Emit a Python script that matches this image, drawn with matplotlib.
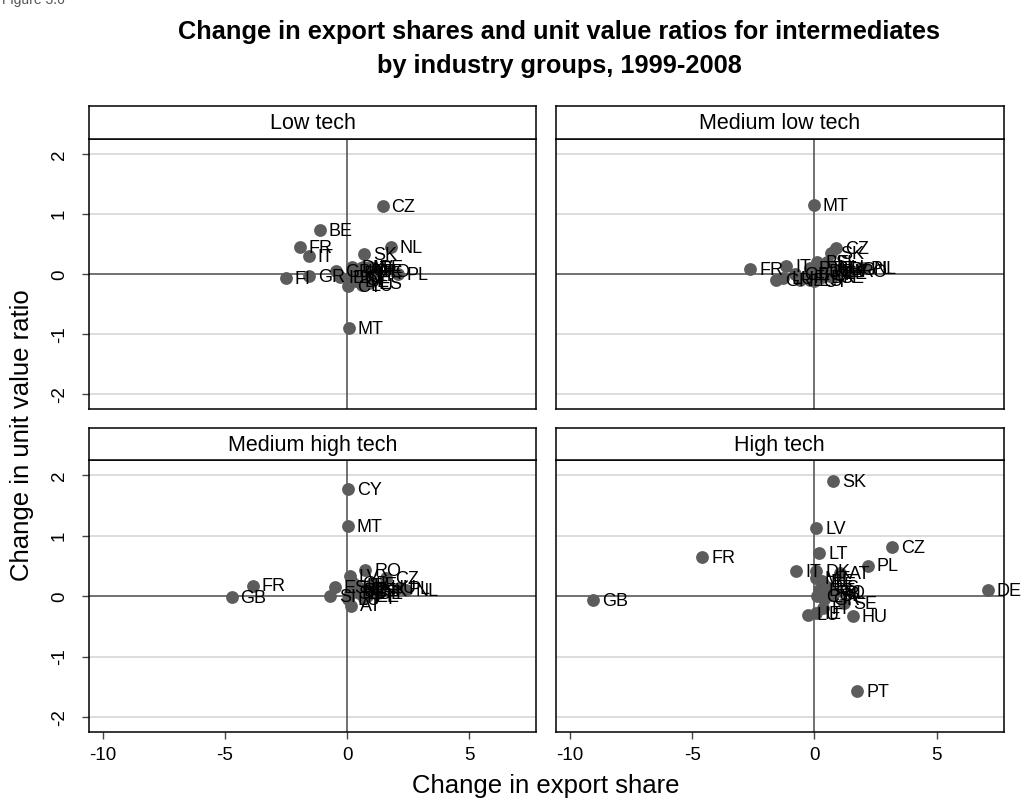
import matplotlib
matplotlib.use("Agg")
import matplotlib.pyplot as plt

plt.rcParams['font.family'] = ['Liberation Sans', 'DejaVu Sans']
plt.rcParams['axes.unicode_minus'] = False

panels = ["Low tech", "Medium low tech", "Medium high tech", "High tech"]

# low tech
low_cc = ["CZ", "BE", "FR", "IT", "NL", "SK", "PL", "FI", "GR", "MT",
          "AT", "DE", "DK", "EE", "ES", "HU", "IE", "LT", "LU", "LV",
          "PT", "RO", "SE", "SI", "BG", "CY", "GB"]
low_x = [1.45, -1.12, -1.94, -1.57, 1.78, 0.69, 2.08, -2.51, -1.56, 0.06,
         0.55, 0.35, 0.20, 0.90, 0.90, 0.45, -0.30, 0.80, 0.60, 0.65,
         0.30, 1.10, 0.95, 0.40, 0.15, 0.05, -0.44]
low_y = [1.14, 0.74, 0.45, 0.31, 0.46, 0.33, 0.00, -0.06, -0.03, -0.90,
         0.10, -0.12, 0.12, 0.05, -0.15, 0.05, -0.05, -0.02, -0.18, 0.12,
         0.02, 0.05, 0.12, -0.08, -0.05, -0.20, 0.06]

# medium low tech
mlow_cc = ["MT", "FR", "IT", "GR", "LU", "CZ", "SK", "PL", "NL", "RO",
           "BE", "AT", "DE", "DK", "EE", "FI", "HU", "IE", "LT", "LV",
           "PT", "SE", "SI", "BG", "CY", "ES", "GB"]
mlow_x = [-0.03, -2.63, -1.16, -1.59, -1.29, 0.89, 0.68, 1.91, 2.05, 1.50,
          0.10, 0.50, 0.20, 0.30, 0.80, -0.40, 0.60, -0.60, 0.40, 1.00,
          -0.20, 0.70, 0.50, 1.10, 0.00, -0.20, -0.80]
mlow_y = [1.16, 0.08, 0.13, -0.10, -0.07, 0.43, 0.35, 0.11, 0.10, 0.06,
          0.20, 0.10, 0.05, -0.05, 0.02, -0.05, 0.12, -0.10, 0.00, 0.05,
          0.10, -0.05, 0.20, 0.08, -0.12, -0.10, 0.00]

# medium high tech
mhigh_cc = ["CY", "MT", "FR", "GB", "RO", "LV", "CZ", "PL", "NL", "SI",
            "AT", "ES", "LU", "BE", "DE", "DK", "EE", "FI", "HU", "IE",
            "IT", "LT", "PT", "SK", "BG", "GR", "SE"]
mhigh_x = [0.03, 0.03, -3.87, -4.73, 0.74, 0.10, 1.60, 2.14, 2.42, -0.71,
           0.17, -0.50, 0.05, 0.30, 0.90, 0.60, 0.80, 1.20, 1.40, 1.00,
           0.40, 0.50, 0.70, 1.10, 0.20, 0.25, 0.10]
mhigh_y = [1.78, 1.16, 0.18, -0.01, 0.43, 0.33, 0.30, 0.14, 0.11, 0.01,
           -0.15, 0.15, -0.05, 0.10, 0.05, 0.12, 0.00, 0.08, 0.15, 0.20,
           0.18, 0.05, -0.02, 0.10, 0.08, 0.22, 0.05]

# high tech
high_cc = ["SK", "LV", "LT", "CZ", "PL", "IT", "DK", "AT", "DE", "HU",
           "SE", "FR", "GB", "LU", "IE", "FI", "PT", "BE", "EE", "ES",
           "NL", "RO", "BG", "CY", "GR", "SI", "MT"]
high_x = [0.75, 0.07, 0.20, 3.16, 2.18, -0.75, 0.07, 1.05, 7.10, 1.57,
          1.23, -4.60, -9.08, -0.27, 0.05, 0.34, 1.76, 0.30, 0.35, 0.50,
          0.80, 0.60, 0.20, 0.10, 0.40, 0.70, 0.05]
high_y = [1.91, 1.13, 0.71, 0.82, 0.51, 0.42, 0.42, 0.38, 0.11, -0.33,
          -0.11, 0.65, -0.06, -0.30, -0.28, -0.19, -1.56, 0.25, 0.20, 0.15,
          0.05, 0.08, 0.10, 0.00, -0.05, 0.02, 0.30]

data = [(low_cc, low_x, low_y), (mlow_cc, mlow_x, mlow_y),
        (mhigh_cc, mhigh_x, mhigh_y), (high_cc, high_x, high_y)]

W, H = 1023, 805
fig = plt.figure(figsize=(W / 100, H / 100), dpi=100)

# panel boxes in pixels
lefts = [88.7, 556.0]
pw = 447.5
tops = [139.3, 460.3]
ph = [269.4, 271.7]
strip_h = [33.6, 32.0]

dot_col = "#5c5c5c"

for k, name in enumerate(panels):
    row, col = divmod(k, 2)
    l = lefts[col] / W
    b = 1 - (tops[row] + ph[row]) / H
    ax = fig.add_axes([l, b, pw / W, ph[row] / H])
    sax = fig.add_axes([l, 1 - tops[row] / H, pw / W, strip_h[row] / H])
    sax.set_xticks([])
    sax.set_yticks([])
    for s in sax.spines.values():
        s.set_linewidth(1.1)
    sax.text(0.5, 0.47, name, ha="center", va="center", fontsize=15.5,
             transform=sax.transAxes)

    cc, xs, ys = data[k]
    ax.set_xlim(-10.58, 7.74)
    ax.set_ylim(-2.24, 2.25)
    for g in [-2, -1, 1, 2]:
        ax.axhline(g, color="#dddddd", lw=1.4, zorder=0)
    ax.axhline(0, color="#4a4a4a", lw=1.1, zorder=1)
    ax.axvline(0, color="#4a4a4a", lw=1.1, zorder=1)
    ax.scatter(xs, ys, s=85, color=dot_col, zorder=3, linewidths=0)
    for c, x, y in zip(cc, xs, ys):
        ax.annotate(c, (x, y), xytext=(6.5, -1), textcoords="offset points",
                    ha="left", va="center", fontsize=13, zorder=4)

    for s in ax.spines.values():
        s.set_linewidth(1.1)
    ax.set_yticks([-2, -1, 0, 1, 2])
    ax.set_xticks([-10, -5, 0, 5])
    ax.tick_params(direction="out", length=5, width=1, color="#444444",
                   labelsize=13.5)
    if col == 0:
        ax.set_yticklabels(["-2", "-1", "0", "1", "2"], rotation=90, va="center")
        ax.tick_params(axis="y", pad=10)
    else:
        ax.tick_params(axis="y", left=False, labelleft=False)
    if row == 1:
        ax.tick_params(axis="x", pad=6)
    else:
        ax.tick_params(axis="x", bottom=False, labelbottom=False)

fig.text(559 / W, 1 - 32 / H, "Change in export shares and unit value ratios for intermediates",
         ha="center", va="center", fontsize=18.3, fontweight="bold")
fig.text(559 / W, 1 - 66 / H, "by industry groups, 1999-2008",
         ha="center", va="center", fontsize=18.3, fontweight="bold")
fig.text(546 / W, 1 - 786 / H, "Change in export share", ha="center",
         va="center", fontsize=18.5)
fig.text(22 / W, 1 - 435 / H, "Change in unit value ratio", ha="center",
         va="center", fontsize=18.5, rotation=90)
fig.text(2 / W, 1.0, "Figure 3.6", ha="left", va="center", fontsize=10,
         color="#555555")

fig.savefig("out.png", dpi=100)
